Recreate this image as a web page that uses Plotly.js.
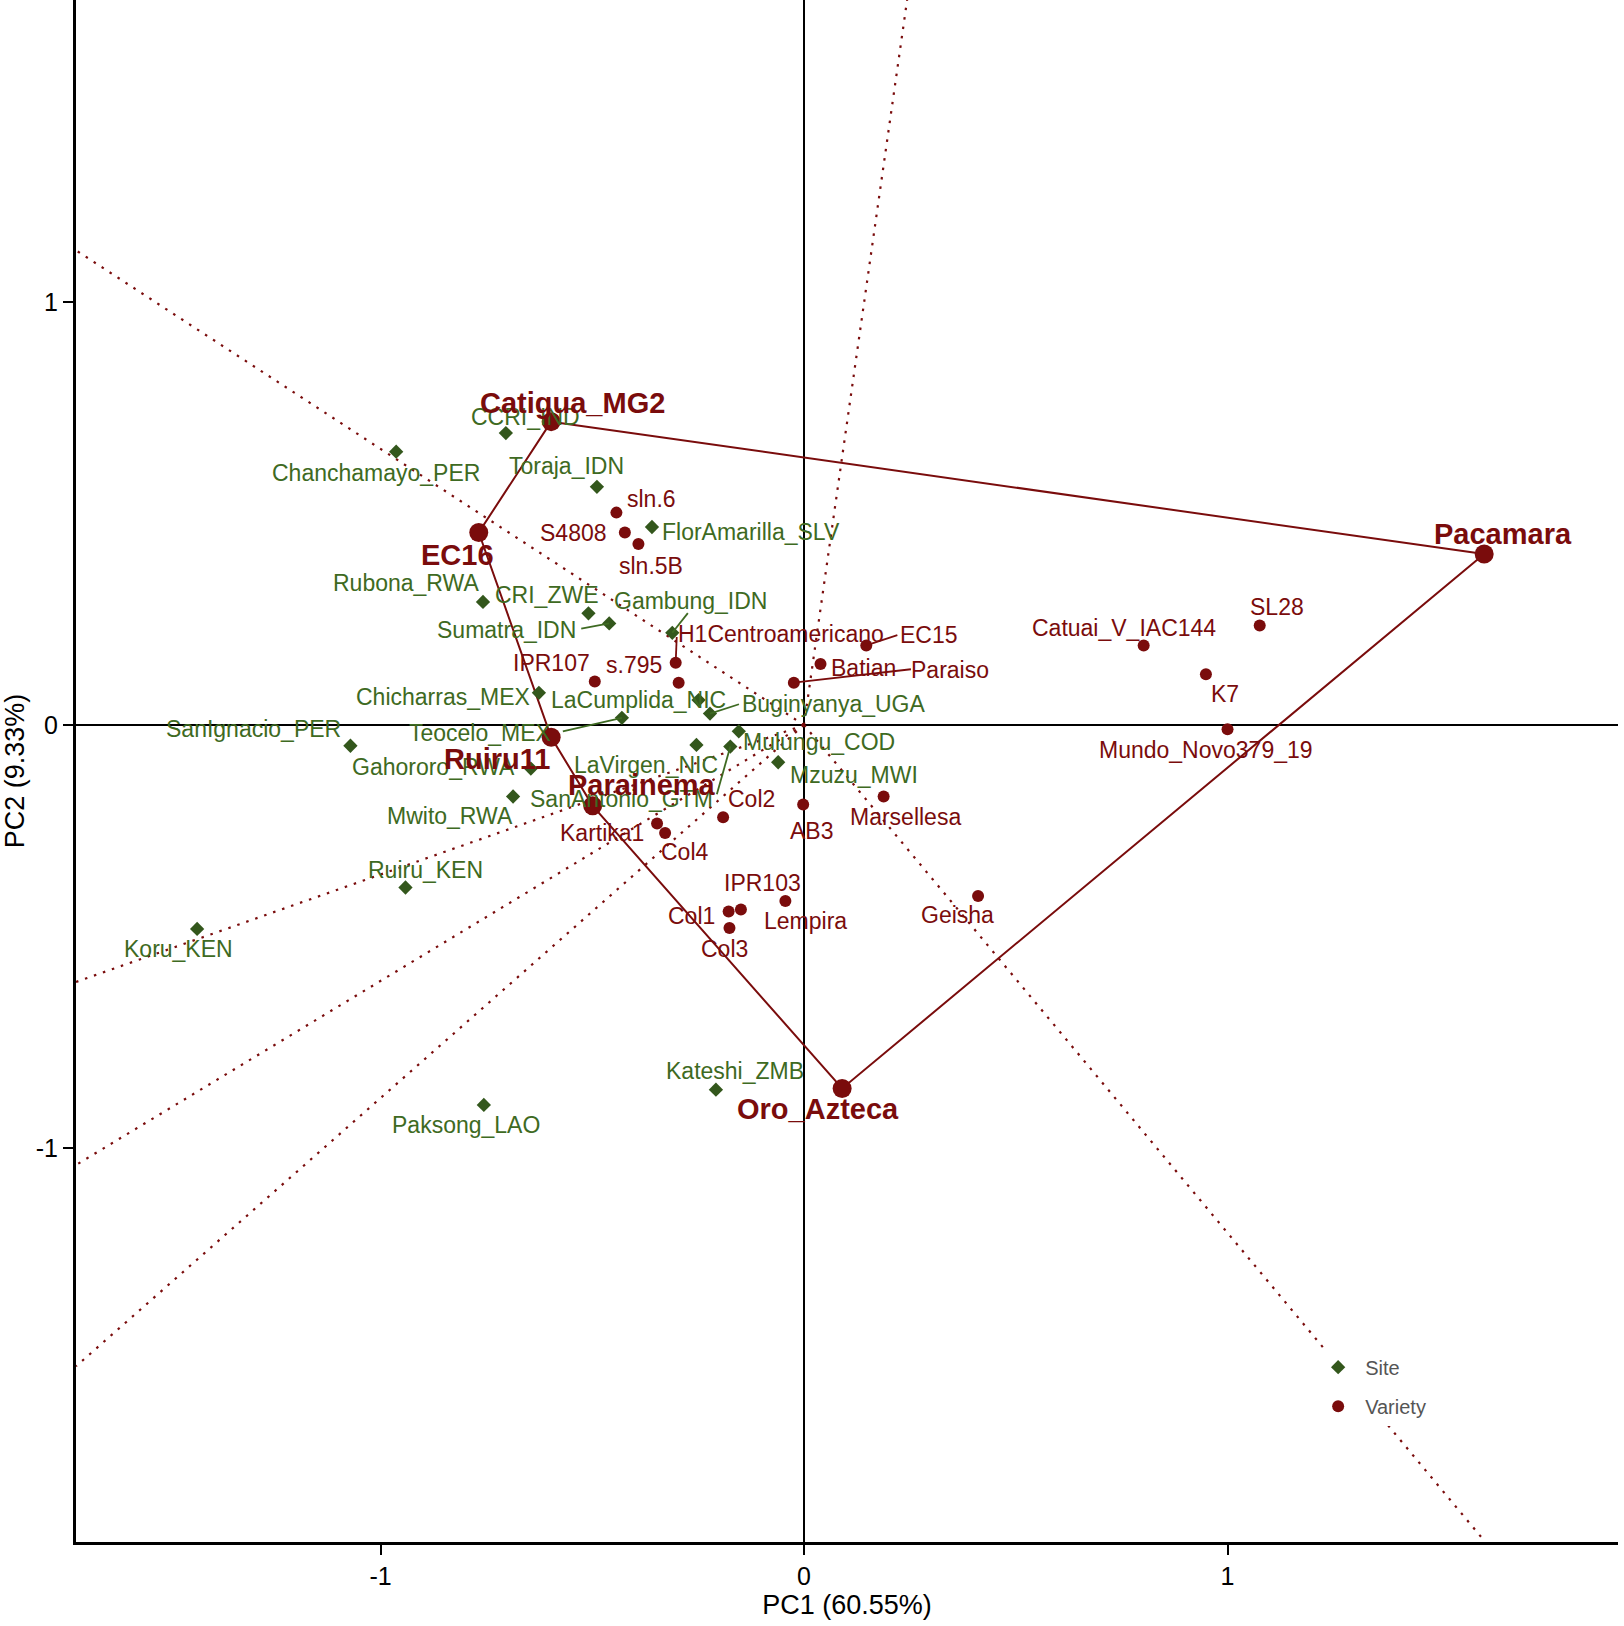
<!DOCTYPE html>
<html><head><meta charset="utf-8">
<script src="https://cdn.plot.ly/plotly-3.0.1.min.js"></script>
<style>html,body{margin:0;padding:0;background:#fff}#chart{width:1624px;height:1626px}</style>
</head><body><div id="chart"></div>
<script>
// ---- data ----
const siteNames = ["CCRI_IND","Chanchamayo_PER","Toraja_IDN","FlorAmarilla_SLV","Rubona_RWA","CRI_ZWE","Sumatra_IDN","Gambung_IDN","Chicharras_MEX","LaCumplida_NIC","Buginyanya_UGA","Teocelo_MEX","Mulungu_COD","SanIgnacio_PER","Gahororo_RWA","LaVirgen_NIC","SanAntonio_GTM","Mzuzu_MWI","Mwito_RWA","Ruiru_KEN","Koru_KEN","Kateshi_ZMB","Paksong_LAO"];
const siteX = [-0.704,-0.963,-0.489,-0.359,-0.758,-0.509,-0.460,-0.311,-0.626,-0.249,-0.222,-0.430,-0.154,-1.071,-0.645,-0.254,-0.174,-0.061,-0.687,-0.941,-1.433,-0.208,-0.756];
const siteY = [0.690,0.646,0.563,0.468,0.291,0.264,0.240,0.218,0.076,0.059,0.027,0.017,-0.015,-0.049,-0.103,-0.047,-0.051,-0.088,-0.169,-0.384,-0.482,-0.862,-0.898];

const varietyNames = ["Catigua_MG2","EC16","Ruiru11","Parainema","Oro_Azteca","Pacamara","sln.6","S4808","sln.5B","H1Centroamericano","s.795","IPR107","Batian","EC15","Paraiso","Col2","AB3","Marsellesa","Kartika1","Col4","Col1","IPR103","Lempira","Col3","Geisha","SL28","Catuai_V_IAC144","K7","Mundo_Novo379_19"];
const varietyX = [-0.597,-0.768,-0.597,-0.499,0.090,1.606,-0.443,-0.423,-0.391,-0.303,-0.296,-0.494,0.039,0.147,-0.024,-0.191,-0.002,0.188,-0.347,-0.328,-0.178,-0.149,-0.044,-0.176,0.411,1.076,0.802,0.949,1.000];
const varietyY = [0.717,0.455,-0.029,-0.191,-0.859,0.404,0.502,0.455,0.428,0.147,0.100,0.103,0.144,0.188,0.100,-0.218,-0.188,-0.169,-0.233,-0.255,-0.441,-0.436,-0.416,-0.480,-0.404,0.235,0.188,0.120,-0.010];

const hullVarieties = ["Catigua_MG2","Pacamara","Oro_Azteca","Parainema","Ruiru11","EC16"];

const tickVals = [-1,0,1];
const tickText = ["-1","0","1"];
const xTitle = "PC1 (60.55%)";
const yTitle = "PC2 (9.33%)";

// ---- styles / label placement (pixel offsets, not data) ----
const K = 1.036;
const GREEN_TXT = "#3e6a22", GREEN_MK = "#33571c";
const RED = "#7a0c0c";
const FONT = "Liberation Sans, Arial, sans-serif";
const xRange = [-1.719, 1.922];
const yRange = [-1.931, 1.7136];

const siteOff = {
 "CCRI_IND":[19,-16],"Chanchamayo_PER":[-19,21],"Toraja_IDN":[-29,-20],"FlorAmarilla_SLV":[96,5],
 "Rubona_RWA":[-74,-18],"CRI_ZWE":[-40,-18],"Sumatra_IDN":[-99,6],"Gambung_IDN":[18,-31],
 "Chicharras_MEX":[-93,4],"LaCumplida_NIC":[-58,0],"Buginyanya_UGA":[119,-9],"Teocelo_MEX":[-137,15],
 "Mulungu_COD":[77,10],"SanIgnacio_PER":[-94,-16],"Gahororo_RWA":[-94,-2],"LaVirgen_NIC":[-49,19],
 "SanAntonio_GTM":[-105,51],"Mzuzu_MWI":[73,12],"Mwito_RWA":[-61,19],"Ruiru_KEN":[19,-17],
 "Koru_KEN":[-18,19],"Kateshi_ZMB":[18,-18],"Paksong_LAO":[-17,19]
};
const siteLeader = {
 "Sumatra_IDN":[-27,5],"Gambung_IDN":[15,-19],"Buginyanya_UGA":[28,-9],"Teocelo_MEX":[-57,13],"SanAntonio_GTM":[-13,46]
};
const varOff = {
 "Catigua_MG2":[21,-18],"EC16":[-21,22],"Ruiru11":[-52,21],"Parainema":[48,-20],"Oro_Azteca":[-23,20],"Pacamara":[18,-19],
 "sln.6":[34,-13],"S4808":[-50,0],"sln.5B":[12,21],"H1Centroamericano":[102,-28],"s.795":[-43,-17],"IPR107":[-42,-18],
 "Batian":[41,4],"EC15":[61,-10],"Paraiso":[151,-12],"Col2":[27,-18],"AB3":[8,26],"Marsellesa":[21,20],
 "Kartika1":[-53,9],"Col4":[19,18],"Col1":[-36,4],"IPR103":[21,-26],"Lempira":[19,19],"Col3":[-5,20],
 "Geisha":[-20,18],"SL28":[17,-18],"Catuai_V_IAC144":[-19,-17],"K7":[18,19],"Mundo_Novo379_19":[-21,20]
};
const varLeader = {"H1Centroamericano":[1,-25],"EC15":[30,-10],"Paraiso":[113,-13]};

// ---- build ----
const vIdx = n => varietyNames.indexOf(n);
const isHull = n => hullVarieties.indexOf(n) >= 0;

const hx = hullVarieties.map(n => varietyX[vIdx(n)]); hx.push(hx[0]);
const hy = hullVarieties.map(n => varietyY[vIdx(n)]); hy.push(hy[0]);

// rays from origin perpendicular to each hull side
const rx = [], ry = [];
for (let i = 0; i < hullVarieties.length; i++) {
  const ax = hx[i], ay = hy[i], bx = hx[i+1], by = hy[i+1];
  let nx = -(by - ay), ny = (bx - ax);
  if (nx*ax + ny*ay < 0) { nx = -nx; ny = -ny; }
  const tx = nx > 0 ? xRange[1]/nx : xRange[0]/nx;
  const ty = ny > 0 ? yRange[1]/ny : yRange[0]/ny;
  const t = Math.min(tx, ty);
  rx.push(0, nx*t, null); ry.push(0, ny*t, null);
}

const traces = [
  {x: rx, y: ry, mode:'lines', line:{color:RED, width:2.2, dash:'2.5px,7px'}, showlegend:false, hoverinfo:'skip', cliponaxis:true},
  {x: hx, y: hy, mode:'lines', line:{color:RED, width:2}, showlegend:false, hoverinfo:'skip'},
  {x: siteX, y: siteY, mode:'markers', name:'Site', marker:{symbol:'diamond', size:11, color:GREEN_MK}, legendgroup:'a'},
  {x: varietyX.filter((v,i)=>!isHull(varietyNames[i])), y: varietyY.filter((v,i)=>!isHull(varietyNames[i])),
   mode:'markers', name:'Variety', marker:{symbol:'circle', size:12, color:RED}, legendgroup:'b'},
  {x: hx.slice(0,-1), y: hy.slice(0,-1), mode:'markers', marker:{symbol:'circle', size:19, color:RED}, showlegend:false}
];

const annotations = [], shapes = [];
function addLabel(name, x, y, color, size, bold, off, leader) {
  annotations.push({x:x, y:y, xref:'x', yref:'y', text: bold ? '<b>'+name+'</b>' : name, showarrow:false,
    xshift: off[0]*K, yshift: -off[1]*K, xanchor:'center', yanchor:'middle',
    font:{family:FONT, size:size, color:color}});
  if (leader) {
    shapes.push({type:'line', xref:'x', yref:'y', xsizemode:'pixel', ysizemode:'pixel', xanchor:x, yanchor:y,
      x0:0, y0:0, x1: leader[0]*K, y1: -leader[1]*K, line:{color:color, width:1.8}});
  }
}
siteNames.forEach((n,i) => addLabel(n, siteX[i], siteY[i], GREEN_TXT, 23, false, siteOff[n], siteLeader[n]));
varietyNames.forEach((n,i) => addLabel(n, varietyX[i], varietyY[i], RED, isHull(n) ? 29 : 23, isHull(n), varOff[n], varLeader[n]));

const axisCommon = {
  showgrid:false, zeroline:true, zerolinecolor:'#000', zerolinewidth:1.6,
  showline:true, linecolor:'#000', linewidth:3, ticks:'outside', ticklen:10, tickwidth:2, tickcolor:'#000',
  tickvals:tickVals, ticktext:tickText, tickfont:{family:FONT, size:25, color:'#000'}, mirror:false, fixedrange:true
};

const layout = {
  width:1624, height:1626, margin:{l:76, r:6, t:0, b:84},
  paper_bgcolor:'#fff', plot_bgcolor:'#fff',
  xaxis: Object.assign({}, axisCommon, {range:xRange, title:{text:xTitle, font:{family:FONT, size:27, color:'#000'}, standoff:6}}),
  yaxis: Object.assign({}, axisCommon, {range:yRange, title:{text:yTitle, font:{family:FONT, size:27, color:'#000'}, standoff:6}}),
  showlegend:true,
  legend:{x:0.801, y:0.126, xanchor:'left', yanchor:'top', bgcolor:'#ffffff', font:{family:FONT, size:20, color:'#555'},
    traceorder:'grouped', tracegroupgap:10, itemwidth:44},
  annotations: annotations, shapes: shapes
};

Plotly.newPlot('chart', traces, layout, {staticPlot:true, displayModeBar:false});
</script></body></html>
